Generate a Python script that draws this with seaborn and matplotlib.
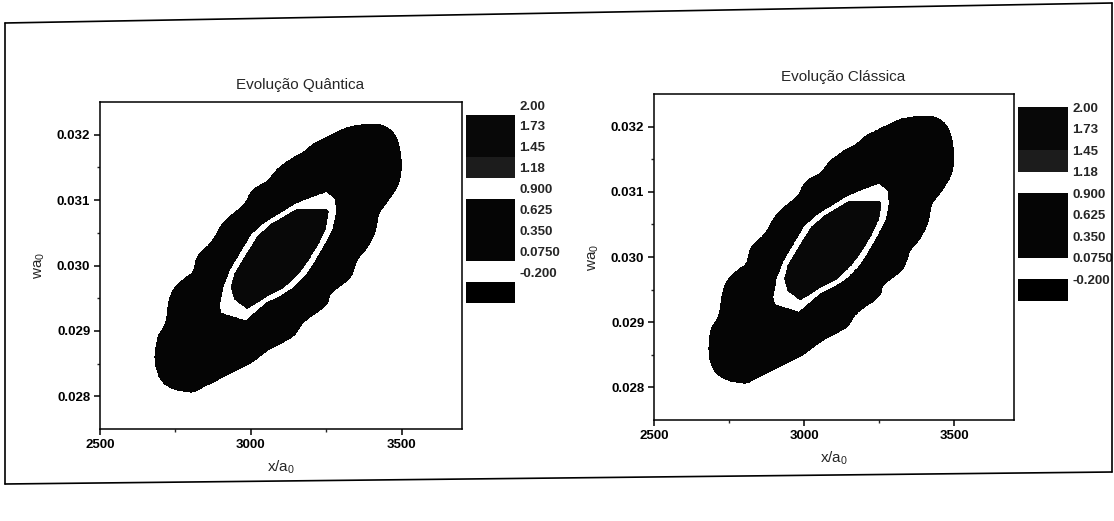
import numpy as np
import matplotlib
matplotlib.use("Agg")
import matplotlib.pyplot as plt
import matplotlib.transforms as mtransforms
from matplotlib.lines import Line2D
from matplotlib.path import Path
import seaborn as sns

# ---------------- data ----------------
titles = ["Evolução Quântica", "Evolução Clássica"]

# contour levels of the legend and their (scanned) fill colours
levels = [-0.475, -0.2, 0.075, 0.35, 0.625, 0.9, 1.18, 1.45, 1.73, 2.0]
level_labels = ["-0.200", "0.0750", "0.350", "0.625", "0.900", "1.18", "1.45", "1.73", "2.00"]
level_colors = ["#000000", "#ffffff", "#050505", "#050505", "#050505",
                "#ffffff", "#1c1c1c", "#080808", "#080808"]

# outer contour (level 0.075) of the distribution
outer_x = [3338, 3421, 3466, 3488, 3496, 3499, 3493, 3477, 3454, 3432,
           3421, 3416, 3404, 3382, 3354, 3343, 3332, 3304, 3282, 3260,
           3254, 3227, 3193, 3166, 3149, 3116, 3071, 3038, 3004, 2960,
           2916, 2871, 2827, 2810, 2760, 2721, 2699, 2686, 2682, 2688,
           2693, 2710, 2721, 2724, 2727, 2738, 2754, 2777, 2810, 2816,
           2821, 2838, 2866, 2877, 2904, 2938, 2971, 2988, 2999, 3027,
           3060, 3082, 3116, 3149, 3177, 3204, 3249, 3282, 3316]
outer_y = [0.03213, 0.03217, 0.03208, 0.03190, 0.03170, 0.03150, 0.03129, 0.03114, 0.03099, 0.03086,
           0.03078, 0.03058, 0.03043, 0.03025, 0.03012, 0.02997, 0.02982, 0.02972, 0.02964, 0.02956,
           0.02941, 0.02931, 0.02921, 0.02910, 0.02895, 0.02885, 0.02875, 0.02865, 0.02852, 0.02842,
           0.02832, 0.02821, 0.02811, 0.02806, 0.02809, 0.02816, 0.02827, 0.02844, 0.02862, 0.02880,
           0.02893, 0.02903, 0.02916, 0.02931, 0.02941, 0.02959, 0.02969, 0.02979, 0.02989, 0.03002,
           0.03012, 0.03022, 0.03033, 0.03040, 0.03063, 0.03078, 0.03089, 0.03099, 0.03112, 0.03122,
           0.03129, 0.03145, 0.03157, 0.03167, 0.03173, 0.03185, 0.03195, 0.03203, 0.03210]

# contour at level 0.900 (outer edge of the white ring)
ring_x = [3249, 3277, 3282, 3271, 3243, 3204, 3182, 3138, 3093, 3049,
          2982, 2904, 2899, 2910, 2932, 2971, 3004, 3049, 3104, 3149, 3204]
ring_y = [0.031115, 0.031013, 0.030835, 0.030580, 0.030326, 0.030020, 0.029868, 0.029664, 0.029537, 0.029435,
          0.029170, 0.029282, 0.029384, 0.029664, 0.029919, 0.030224, 0.030478, 0.030656, 0.030809, 0.030936, 0.031038]

# contour at level 1.18 (core)
core_x = [3249, 3256, 3248, 3222, 3188, 3155, 3108, 3052, 2988, 2947,
          2936, 2947, 2980, 3025, 3069, 3114, 3154]
core_y = [0.030860, 0.030824, 0.030580, 0.030326, 0.030071, 0.029868, 0.029664, 0.029530, 0.029345, 0.029486,
          0.029664, 0.029868, 0.030122, 0.030453, 0.030631, 0.030750, 0.030860]

# representative value of the distribution in each region
value_background = 0.0
value_outer = 0.5
value_ring = 1.0
value_core = 1.6

x_range = [2500, 3700]
y_range = [0.0275, 0.0325]
x_ticks = [2500, 3000, 3500]
x_minor = [2750, 3250]
y_ticks = [0.028, 0.029, 0.030, 0.031, 0.032]
y_tick_labels = ["0.028", "0.029", "0.030", "0.031", "0.032"]
y_minor = [0.0285, 0.0295, 0.0305, 0.0315]

# ---------------- style ----------------
sns.set_style("white")
plt.rcParams["font.family"] = ["Liberation Sans", "DejaVu Sans"]
plt.rcParams["mathtext.fontset"] = "custom"
plt.rcParams["mathtext.rm"] = "Liberation Sans"
plt.rcParams["mathtext.it"] = "Liberation Sans"

W, H = 1114, 521
fig = plt.figure(figsize=(W / 100, H / 100), dpi=100)
fig.patch.set_facecolor("white")

# field on a grid, from the region boundaries
gx = np.linspace(x_range[0], x_range[1], 800)
gy = np.linspace(y_range[0], y_range[1], 800)
GX, GY = np.meshgrid(gx, gy)
pts = np.column_stack([GX.ravel(), GY.ravel() * 1e5])


def chaikin(xs, ys, n):
    """Corner-cutting smoothing of a closed traced outline."""
    p = np.column_stack([xs, ys]).astype(float)
    for _ in range(n):
        q = np.roll(p, -1, axis=0)
        p = np.vstack([np.column_stack([0.75 * p[:, 0] + 0.25 * q[:, 0], 0.75 * p[:, 1] + 0.25 * q[:, 1]]),
                       np.column_stack([0.25 * p[:, 0] + 0.75 * q[:, 0], 0.25 * p[:, 1] + 0.75 * q[:, 1]])])
        k = len(p) // 2
        order = np.empty(2 * k, dtype=int)
        order[0::2] = np.arange(k)
        order[1::2] = np.arange(k) + k
        p = p[order]
    return p[:, 0], p[:, 1]


def inside(xs, ys):
    poly = Path(np.column_stack([xs, np.asarray(ys) * 1e5]))
    return poly.contains_points(pts).reshape(GX.shape).astype(float)


ox, oy = chaikin(outer_x, outer_y, 3)
Z = (value_background
     + (value_outer - value_background) * inside(ox, oy)
     + (value_ring - value_outer) * inside(ring_x, ring_y)
     + (value_core - value_ring) * inside(core_x, core_y))

axes_rects = [[100 / W, 1 - 429 / H, 362 / W, 327 / H],
              [654 / W, 1 - 420 / H, 360 / W, 326 / H]]
cax_rects = [[466 / W, 1 - 303 / H, 49 / W, 188 / H],
             [1018 / W, 1 - 301 / H, 50 / W, 194 / H]]
title_x = [0.552, 0.525]
label_shift = [10, 0]

for i in range(2):
    ax = fig.add_axes(axes_rects[i])
    cs = ax.contourf(GX, GY, Z, levels=levels, colors=level_colors)
    ax.set_xlim(*x_range)
    ax.set_ylim(*y_range)
    ax.set_xticks(x_ticks)
    ax.set_xticks(x_minor, minor=True)
    ax.set_yticks(y_ticks)
    ax.set_yticklabels(y_tick_labels)
    ax.set_yticks(y_minor, minor=True)
    for s in ax.spines.values():
        s.set_visible(True)
        s.set_color("black")
        s.set_linewidth(1.1)
    ax.tick_params(which="major", direction="out", length=4, width=1.1,
                   bottom=True, left=True, labelsize=9.5, pad=3, colors="black")
    ax.tick_params(which="minor", direction="out", length=2.5, width=1,
                   bottom=True, left=True)
    for lab in ax.get_xticklabels() + ax.get_yticklabels():
        lab.set_fontweight("bold")
    ax.set_xlabel(r"x/a$_\mathregular{0}$", fontsize=11, labelpad=6)
    ax.set_ylabel(r"wa$_\mathregular{0}$", fontsize=11, labelpad=7)
    ax.set_title(titles[i], fontsize=11, x=title_x[i], pad=9)

    cax = fig.add_axes(cax_rects[i])
    cb = fig.colorbar(cs, cax=cax, ticks=levels[1:])
    cb.outline.set_visible(False)
    cax.set_yticklabels(level_labels)
    cax.tick_params(length=0, labelsize=9.5, pad=3)
    off = mtransforms.ScaledTranslation(0, label_shift[i] / 100, fig.dpi_scale_trans)
    for lab in cax.get_yticklabels():
        lab.set_fontweight("bold")
        lab.set_transform(lab.get_transform() + off)

# scanned page frame
def fl(x0, y0, x1, y1):
    fig.add_artist(Line2D([x0 / W, x1 / W], [1 - y0 / H, 1 - y1 / H],
                          transform=fig.transFigure, color="black", lw=1.2))

fl(5, 23, 1112, 3)
fl(5, 23, 5, 484)
fl(5, 484, 1112, 472)
fl(1112, 3, 1112, 472)

fig.savefig("out.png", dpi=100, facecolor="white")
